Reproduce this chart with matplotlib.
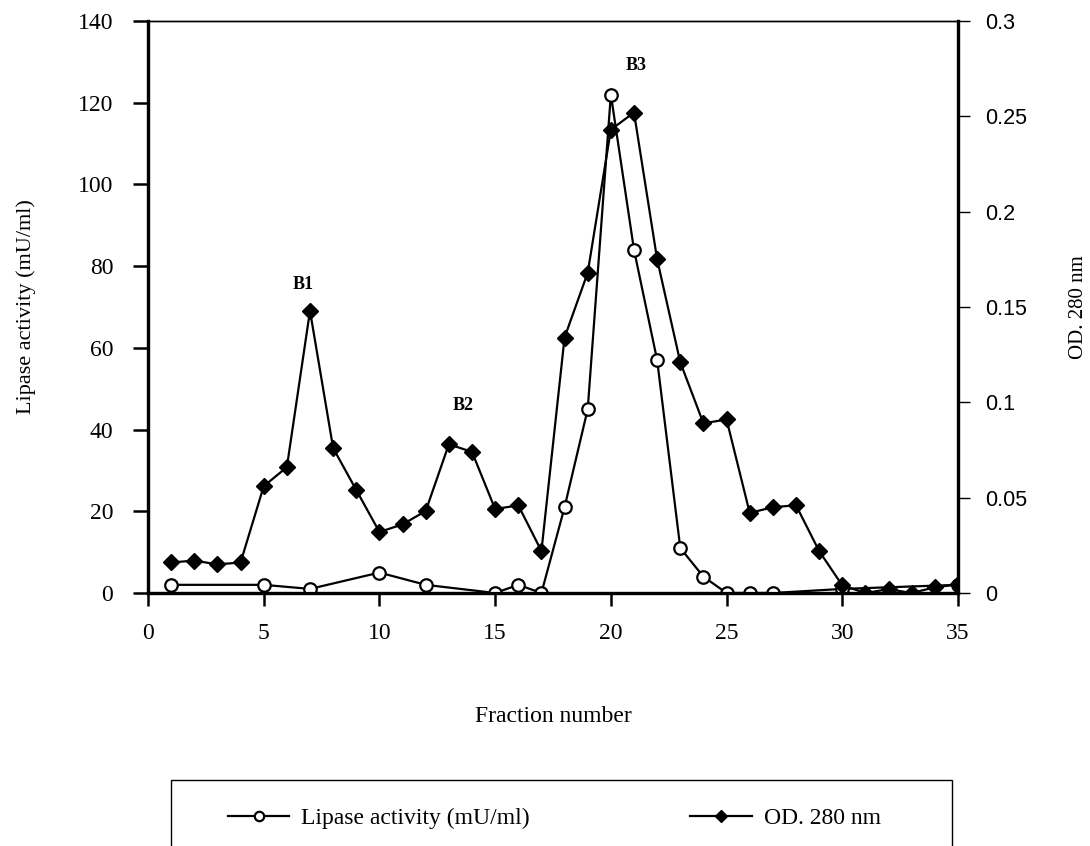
import numpy as np
import matplotlib
matplotlib.use("Agg")
import matplotlib.pyplot as plt
from matplotlib.patches import Rectangle

# fraction numbers and readings taken off the chromatogram
lipase_frac = [1, 5, 7, 10, 12, 15, 16, 17, 18, 19, 20, 21, 22, 23, 24, 25, 26, 27, 30, 35]
lipase_act = [2, 2, 1, 5, 2, 0, 2, 0, 21, 45, 122, 84, 57, 11, 4, 0, 0, 0, 1, 2]

od_frac = list(range(1, 36))
od_280 = [0.016, 0.017, 0.015, 0.016, 0.056, 0.066, 0.148, 0.076, 0.054, 0.032,
          0.036, 0.043, 0.078, 0.074, 0.044, 0.046, 0.022, 0.134, 0.168, 0.243,
          0.252, 0.175, 0.121, 0.089, 0.091, 0.042, 0.045, 0.046, 0.022, 0.004,
          0.0, 0.002, 0.0, 0.003, 0.0045]

peak_names = ["B1", "B2", "B3"]
peak_x = [6.7, 13.6, 21.1]
peak_y = [75.5, 46, 129]

serif = "Liberation Serif"
sans = "Liberation Sans"

fig = plt.figure(figsize=(10.9, 8.46), dpi=100)
ax = fig.add_axes([148 / 1090, (846 - 593) / 846, 810 / 1090, 572 / 846])
ax2 = ax.twinx()

l1, = ax.plot(lipase_frac, lipase_act, color="black", lw=1.6, marker="o", ms=9,
              mfc="white", mec="black", mew=1.6, zorder=3)
l2, = ax2.plot(od_frac, od_280, color="black", lw=1.6, marker="D", ms=8.5,
               mfc="black", mec="black", zorder=3)

ax.set_xlim(0, 35)
ax.set_ylim(0, 140)
ax2.set_ylim(0, 0.3)
ax.set_xticks(np.arange(0, 36, 5))
ax.set_yticks(np.arange(0, 141, 20))
ax2.set_yticks([0, 0.05, 0.1, 0.15, 0.2, 0.25, 0.3])
ax2.set_yticklabels(["0", "0.05", "0.1", "0.15", "0.2", "0.25", "0.3"])

for a in (ax, ax2):
    for s in ("left", "right", "bottom"):
        a.spines[s].set_linewidth(2.3)
    a.spines["top"].set_linewidth(1.0)

ax.tick_params(axis="x", direction="out", length=9.5, width=1.8, pad=12)
ax.tick_params(axis="y", direction="out", length=11, width=1.8, pad=14)
ax2.tick_params(axis="y", direction="out", length=8.5, width=1.0, pad=11)

for lab in ax.get_xticklabels() + ax.get_yticklabels():
    lab.set_fontfamily(serif)
    lab.set_fontsize(17)
for lab in ax2.get_yticklabels():
    lab.set_fontfamily(sans)
    lab.set_fontsize(15.5)

ax.set_xlabel("Fraction number", fontfamily=serif, fontsize=17, labelpad=45)
ax.set_ylabel("Lipase activity (mU/ml)", fontfamily=serif, fontsize=16, labelpad=30)
ax2.set_ylabel("OD. 280 nm", fontfamily=serif, fontsize=15, labelpad=30)

for name, x, y in zip(peak_names, peak_x, peak_y):
    ax.text(x, y, name, fontfamily=serif, fontweight="bold", fontsize=13,
            ha="center", va="center")

# legend box runs off the bottom of the figure
fig.patches.append(Rectangle((171 / 1090, -0.05), (952 - 171) / 1090, 0.05 + (846 - 780) / 846,
                             transform=fig.transFigure, fill=False, ec="black", lw=1.0))
fig.legend([l1, l2], ["Lipase activity (mU/ml)", "OD. 280 nm"], loc="center left",
           bbox_to_anchor=(228 / 1090, (846 - 818) / 846), ncol=2, frameon=False,
           prop={"family": serif, "size": 17}, handlelength=2.6, handletextpad=0.5,
           columnspacing=6.8, borderpad=0, borderaxespad=0, markerscale=0.75)

fig.savefig("out.png", dpi=100)
